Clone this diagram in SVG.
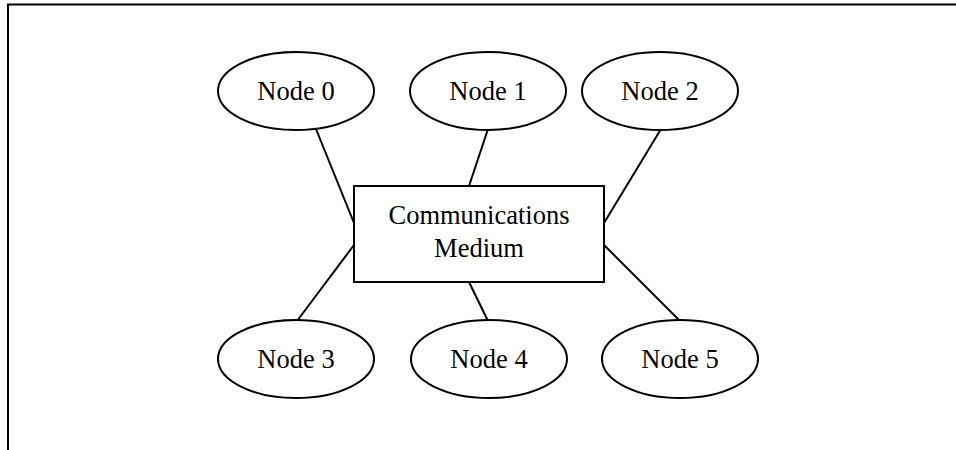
<svg xmlns="http://www.w3.org/2000/svg" width="956" height="450" viewBox="0 0 956 450">
  <style>
    .frame { fill: none; stroke: #000; stroke-width: 2; }
    .node ellipse, .hub rect { fill: #fff; stroke: #000; stroke-width: 2; }
    .link { stroke: #000; stroke-width: 2; fill: none; }
    text { font-family: "Liberation Serif", "Times New Roman", serif; font-size: 26.5px; fill: #000; text-anchor: middle; }
  </style>
  <rect width="956" height="450" fill="#fff"/>
  <!-- page frame: top and left edges only -->
  <path class="frame" d="M8 450 V4.5 H956"/>

  <g id="connectors">
    <line class="link" x1="316" y1="129" x2="354" y2="223"/>
    <line class="link" x1="488" y1="129" x2="469" y2="186"/>
    <line class="link" x1="661" y1="129" x2="604" y2="223"/>
    <line class="link" x1="297" y1="321" x2="354" y2="245"/>
    <line class="link" x1="488" y1="321" x2="469" y2="282"/>
    <line class="link" x1="680" y1="321" x2="604" y2="245"/>
  </g>

  <g id="medium" class="hub">
    <rect x="354" y="186" width="250" height="96"/>
    <text x="479" y="224">Communications</text>
    <text x="479" y="257">Medium</text>
  </g>

  <g id="node0" class="node">
    <ellipse cx="296" cy="91" rx="78" ry="39"/>
    <text x="296" y="100">Node 0</text>
  </g>
  <g id="node1" class="node">
    <ellipse cx="488" cy="91" rx="78" ry="39"/>
    <text x="488" y="100">Node 1</text>
  </g>
  <g id="node2" class="node">
    <ellipse cx="660" cy="91" rx="78" ry="39"/>
    <text x="660" y="100">Node 2</text>
  </g>
  <g id="node3" class="node">
    <ellipse cx="296" cy="359" rx="78" ry="39"/>
    <text x="296" y="368">Node 3</text>
  </g>
  <g id="node4" class="node">
    <ellipse cx="489" cy="359" rx="78" ry="39"/>
    <text x="489" y="368">Node 4</text>
  </g>
  <g id="node5" class="node">
    <ellipse cx="680" cy="359" rx="78" ry="39"/>
    <text x="680" y="368">Node 5</text>
  </g>
</svg>
